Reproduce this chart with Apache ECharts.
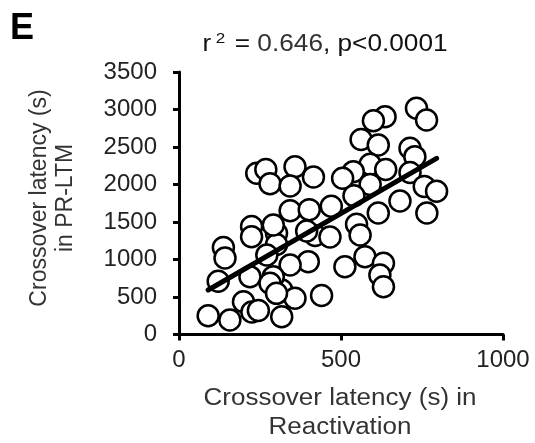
<!DOCTYPE html>
<html>
<head>
<meta charset="utf-8">
<script src="https://cdn.jsdelivr.net/npm/echarts@6/dist/echarts.min.js"></script>
<style>
html,body{margin:0;padding:0;background:#fff;}
#chart{width:535px;height:443px;}
</style>
</head>
<body>
<div id="chart"></div>
<script>
// Reactivation crossover latency (s)
var reactX = [733,764,636,600,562,615,713,728,590,638,713,538,505,590,757,795,682,540,615,765,
  240,268,281,358,343,415,
  343,402,470,548,301,301,420,394,466,224,224,291,137,142,121,219,271,559,
  399,343,512,574,631,620,631,317,358,440,317,90,157,199,225,245,291,281,301];
// PR-LTM crossover latency (s)
var prltmY = [3016,2860,2904,2850,2600,2527,2483,2371,2270,2200,2160,2171,2083,2000,1975,1910,1780,1850,1620,1620,
  2150,2200,2010,2237,1980,2100,
  1650,1665,1710,1470,1350,1200,1320,1380,1300,1440,1304,1460,1160,1020,710,771,1060,1327,
  971,927,904,1037,949,793,637,593,483,520,237,250,193,437,300,320,771,683,549];
// regression line end points
var fitX = [90, 795];
var fitY = [593, 2349];
var xTicks = [0, 500, 1000];
var yTicks = [0, 500, 1000, 1500, 2000, 2500, 3000, 3500];

var points = reactX.map(function(x, i){ return [x, prltmY[i]]; });
var fitLine = fitX.map(function(x, i){ return [x, fitY[i]]; });

var chart = echarts.init(document.getElementById('chart'), null, {renderer:'canvas'});
var FF = 'Liberation Sans';
chart.setOption({
  animation:false,
  backgroundColor:'#fff',
  graphic:[
    {type:'text', x:10, y:29, style:{text:'E', fontFamily:FF, fontWeight:'bold', fontSize:36,
      fill:'#000', verticalAlign:'middle'}},
    {type:'text', x:325, y:45, scaleX:1.14, style:{
      text:'{r|r}{sup|2}{r| = }{b|0.646}{r|, p<0.0001}',
      align:'center', verticalAlign:'middle',
      rich:{
        r:{fontFamily:FF, fontSize:23, fill:'#111'},
        b:{fontFamily:FF, fontSize:23, fill:'#333'},
        sup:{fontFamily:FF, fontSize:15, fill:'#111', verticalAlign:'top', padding:[0,2,13,4]}
      }
    }},
    {type:'text', x:53, y:198, rotation:Math.PI/2, style:{
      text:'Crossover latency (s)\nin PR-LTM', align:'center', verticalAlign:'middle',
      fontFamily:FF, fontSize:23, fill:'#333', lineHeight:26
    }},
    {type:'text', x:340, y:413, scaleX:1.13, style:{
      text:'Crossover latency (s) in\nReactivation', align:'center', verticalAlign:'middle',
      fontFamily:FF, fontSize:23, fill:'#333', lineHeight:29
    }}
  ],
  grid:{left:179, right:32, top:72, bottom:108.5, containLabel:false},
  xAxis:{
    type:'value', min:0, max:1000, interval:500,
    axisLine:{show:true, lineStyle:{color:'#000', width:3}},
    axisTick:{show:true, length:6, lineStyle:{color:'#000', width:3}},
    axisLabel:{color:'#222', fontFamily:FF, fontSize:24, margin:14,
      formatter:function(v){ return String(v); }},
    splitLine:{show:false}
  },
  yAxis:{
    type:'value', min:0, max:3500, interval:500,
    axisLine:{show:true, lineStyle:{color:'#000', width:3}},
    axisTick:{show:true, length:6, lineStyle:{color:'#000', width:3}},
    axisLabel:{color:'#222', fontFamily:FF, fontSize:24, margin:22,
      formatter:function(v){ return String(v); }},
    splitLine:{show:false}
  },
  series:[
    {type:'scatter', data:points, symbol:'circle', symbolSize:21,
      itemStyle:{color:'#fff', borderColor:'#000', borderWidth:2.5, opacity:1}, z:2},
    {type:'line', data:fitLine, symbol:'none', lineStyle:{color:'#000', width:5, cap:'round'}, z:3}
  ]
});
</script>
</body>
</html>
